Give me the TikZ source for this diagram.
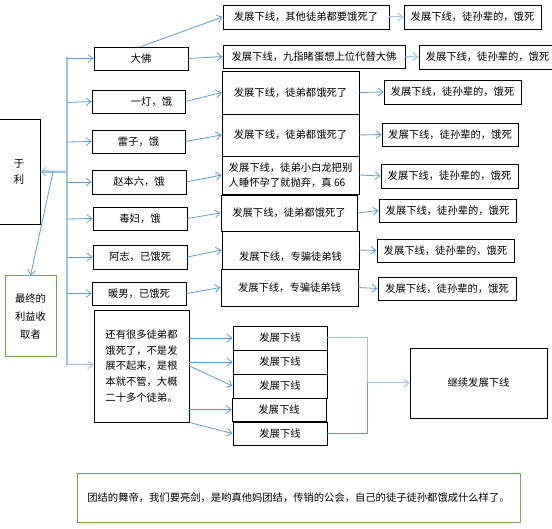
\documentclass[tikz,border=0pt]{standalone}
\usepackage{fontspec}
\setmainfont{Noto Sans CJK SC}
\usetikzlibrary{arrows.meta}
\definecolor{ablue}{HTML}{5B9BD5}
\definecolor{lblue}{HTML}{9DC3E6}
\definecolor{gbox}{HTML}{70AD47}
\begin{document}
\begin{tikzpicture}[x=1pt,y=-1pt,
  bx/.style={draw=black, line width=0.9pt, inner sep=0pt, align=center,
             font=\fontsize{10.3}{15}\selectfont},
  gbx/.style={bx, draw=gbox, line width=1pt},
  arr/.style={draw=ablue, line width=0.8pt, -{Straight Barb[length=5pt,width=8pt]}},
  larr/.style={draw=lblue, line width=1pt, -{Straight Barb[length=5pt,width=8pt]}},
  trunkline/.style={draw=lblue, line width=2.4pt},
  tarr/.style={draw=lblue, line width=2.4pt, -{Straight Barb[length=5pt,width=9pt,line width=1pt]}}]
\useasboundingbox (0,0) rectangle (552,529);

% left column
\node[bx, minimum width=42pt, minimum height=105pt, font=\fontsize{10.3}{16}\selectfont] (yuli) at (19,171.5) {于\\利};
\node[gbx, minimum width=51pt, minimum height=81pt, font=\fontsize{10.3}{18}\selectfont] (final) at (30.5,316.5) {最终的\\利益收\\取者};

% first level
\node[bx, minimum width=94pt, minimum height=23pt] (dafo) at (141,58.5) {大佛};
\node[bx, minimum width=93pt, minimum height=23pt] (yideng) at (138.5,101.5) {\hspace*{26pt}一灯，饿};
\node[bx, minimum width=93pt, minimum height=23pt] (leizi) at (138.5,141.5) {雷子，饿};
\node[bx, minimum width=94pt, minimum height=24pt] (zhao) at (139,182) {赵本六，饿};
\node[bx, minimum width=94pt, minimum height=23pt] (dufu) at (140,218.5) {毒妇，饿};
\node[bx, minimum width=94pt, minimum height=24pt] (azhi) at (140,257) {阿志，已饿死};
\node[bx, minimum width=94pt, minimum height=23pt] (nuan) at (139,293.5) {暖男，已饿死};
\node[bx, minimum width=95pt, minimum height=112pt, align=left, font=\fontsize{10.3}{15.7}\selectfont] (rest) at (141.5,366)
  {还有很多徒弟都\\饿死了，不是发\\展不起来，是根\\本就不管，大概\\二十多个徒弟。};

% second level
\node[bx, minimum width=166pt, minimum height=24pt] (m1) at (306,17) {发展下线，其他徒弟都要饿死了};
\node[bx, minimum width=182pt, minimum height=23pt] (m2) at (314,56.5) {发展下线，九指睹蛋想上位代替大佛};
\node[bx, minimum width=137pt, minimum height=43pt] (m3) at (290.5,92.5) {发展下线，徒弟都饿死了};
\node[bx, minimum width=137pt, minimum height=42pt] (m4) at (290.5,135) {发展下线，徒弟都饿死了};
\node[bx, minimum width=137pt, minimum height=38pt, align=left] (m5) at (290.5,175) {发展下线，徒弟小白龙把别\\人睡怀孕了就抛弃，真 66};
\node[bx, minimum width=136pt, minimum height=36pt] (m6) at (289,213) {发展下线，徒弟都饿死了};
\node[bx, minimum width=137pt, minimum height=38pt, text height=24pt, text depth=2pt] (m7) at (290.5,250) {发展下线，专骗徒弟钱};
\node[bx, minimum width=137pt, minimum height=37pt] (m8) at (289.5,287.5) {发展下线，专骗徒弟钱};

% third level
\node[bx, minimum width=137pt, minimum height=24pt] (r1) at (472.5,17) {发展下线，徒孙辈的，饿死};
\node[bx, minimum width=137pt, minimum height=24pt] (r2) at (487.5,57) {发展下线，徒孙辈的，饿死};
\node[bx, minimum width=137pt, minimum height=24pt] (r3) at (452.5,92) {发展下线，徒孙辈的，饿死};
\node[bx, minimum width=136pt, minimum height=23pt] (r4) at (450,134.5) {发展下线，徒孙辈的，饿死};
\node[bx, minimum width=137pt, minimum height=24pt] (r5) at (449.5,176) {发展下线，徒孙辈的，饿死};
\node[bx, minimum width=137pt, minimum height=23pt] (r6) at (447.5,210.5) {发展下线，徒孙辈的，饿死};
\node[bx, minimum width=137pt, minimum height=23pt] (r7) at (445.5,250.5) {发展下线，徒孙辈的，饿死};
\node[bx, minimum width=138pt, minimum height=23pt] (r8) at (447,288.5) {发展下线，徒孙辈的，饿死};

% bottom group
\node[bx, minimum width=94pt, minimum height=24pt] (b1) at (280,338) {发展下线};
\node[bx, minimum width=94pt, minimum height=24pt] (b2) at (280,362) {发展下线};
\node[bx, minimum width=94pt, minimum height=24pt] (b3) at (280,386) {发展下线};
\node[bx, minimum width=94pt, minimum height=23pt] (b4) at (279,409.5) {发展下线};
\node[bx, minimum width=94pt, minimum height=23pt] (b5) at (280,433.5) {发展下线};
\node[bx, minimum width=137pt, minimum height=70pt] (cont) at (478.5,383) {继续发展下线};

% note
\node[gbx, minimum width=443pt, minimum height=49pt] (note) at (298.5,497.5)
  {团结的舞帝，我们要亮剑，是哟真他妈团结，传销的公会，自己的徒子徒孙都饿成什么样了。};

% trunk
\coordinate (ttop) at (67,57);
\coordinate (tbot) at (67,365);
\coordinate (tyl) at (67,172);
\coordinate (tfk) at (53,172);
\coordinate (t1) at (67,58.5);
\coordinate (t2) at (67,102.5);
\coordinate (t3) at (67,142);
\coordinate (t4) at (67,182);
\coordinate (t5) at (67,219);
\coordinate (t6) at (67,257);
\coordinate (t7) at (67,293.5);
\draw[trunkline] (ttop) -- (tbot);
\draw[larr] (tbot) -- (tbot -| rest.west);
\draw[tarr] (tyl) -- (yuli.east);
\draw[arr] (tfk) -- (final.north);
\draw[arr] (t1) -- (dafo.west);
\draw[arr] (t2) -- (yideng.west);
\draw[arr] (t3) -- (leizi.west);
\draw[arr] (t4) -- (zhao.west);
\draw[arr] (t5) -- (dufu.west);
\draw[arr] (t6) -- (azhi.west);
\draw[arr] (t7) -- (nuan.west);

% first to second level
\draw[arr] (dafo.north) -- (m1.west);
\draw[arr] (dafo.east) -- (m2.west);
\draw[arr] (yideng.east) -- (m3.west);
\draw[arr] (leizi.east) -- (m4.west);
\draw[arr] (zhao.east) -- (m5.west);
\draw[arr] (dufu.east) -- (m6.west);
\draw[arr] (azhi.east) -- (m7.west);
\draw[arr] (nuan.east) -- (m8.west);

% second to third level
\draw[larr] (m1.east) -- (r1.west);
\draw[larr] (m2.east) -- (r2.west);
\draw[arr] (m3.east) -- (r3.west);
\draw[arr] (m4.east) -- (r4.west);
\draw[arr] (m5.east) -- (r5.west);
\draw[arr] (m6.east) -- (r6.west);
\draw[arr] (m7.east) -- (r7.west);
\draw[arr] (m8.east) -- (r8.west);

% rest to bottom boxes
\draw[arr] (rest.east |- b1.west) -- (b1.west);
\draw[arr] (rest.east |- b2.west) -- (b2.west);
\draw[arr] (rest.east) -- (b3.west);
\draw[arr] (rest.east |- b4.west) -- (b4.west);
\draw[arr] (rest.south east) -- (b5.west);

% bottom boxes to continue
\coordinate (j) at (367,383);
\draw[larr] (b1.east) -- (b1.east -| j) -- (j) -- (cont.west);
\draw[draw=ablue, line width=1pt] (b5.east) -- (b5.east -| j) -- (j);
\end{tikzpicture}
\end{document}
